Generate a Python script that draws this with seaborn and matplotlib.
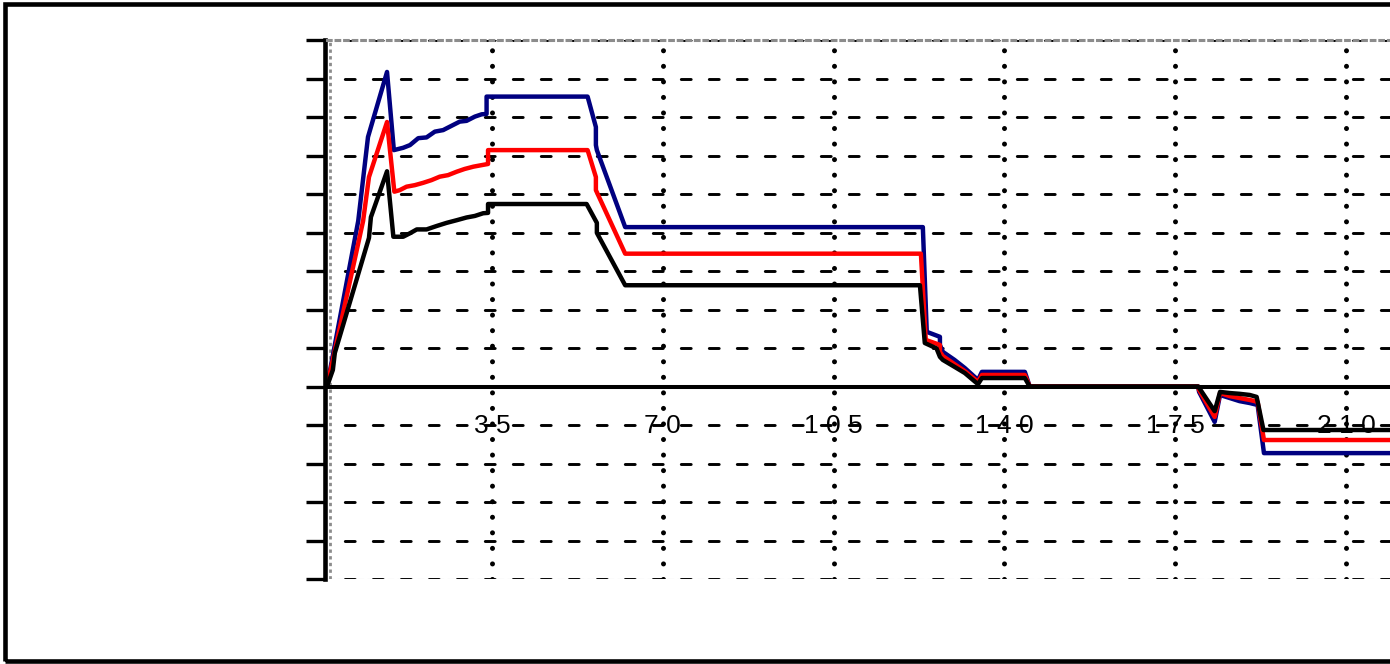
import matplotlib
matplotlib.use("Agg")
import matplotlib.pyplot as plt
from matplotlib.patches import Rectangle
import pandas as pd
import seaborn as sns

# ---- data -------------------------------------------------------------
names = ["upper", "middle", "lower"]
colors = ["#000080", "#ff0000", "#000000"]

upper_t = [1.2, 7.6, 9.6, 13.5, 14.9, 16.8, 18.2, 19.9, 21.6, 23.3, 25.0, 26.7,
           28.4, 29.8, 31.5, 32.9, 33.9, 33.9, 54.6, 56.3, 56.3, 56.5, 62.3,
           123.3, 124.1, 126.8, 126.8, 127.4, 129.8, 131.9, 134.6, 135.4, 144.2,
           145.2, 179.7, 179.9, 183.1, 184.2, 186.2, 188.2, 190.3, 191.9, 193.2, 230.0]
upper_v = [0.0, 4.30, 6.48, 8.17, 6.14, 6.20, 6.27, 6.45, 6.47, 6.62, 6.66, 6.77,
           6.88, 6.90, 7.01, 7.07, 7.08, 7.53, 7.53, 6.74, 6.27, 6.14, 4.14,
           4.14, 1.42, 1.29, 1.08, 0.90, 0.69, 0.48, 0.17, 0.38, 0.38,
           0.0, 0.0, -0.14, -0.92, -0.22, -0.30, -0.38, -0.43, -0.48, -1.73, -1.73]

middle_t = [1.2, 8.6, 9.8, 13.5, 15.0, 16.1, 17.5, 19.2, 20.9, 22.6, 24.3, 26.0,
            27.8, 29.4, 31.2, 32.9, 34.2, 34.2, 54.6, 56.3, 56.3, 62.3,
            122.9, 123.9, 126.8, 126.8, 127.4, 129.8, 131.9, 134.6, 135.4, 144.2,
            145.2, 179.7, 179.9, 183.1, 184.2, 186.2, 188.2, 190.3, 191.9, 193.2, 230.0]
middle_v = [0.0, 4.30, 5.44, 6.87, 5.06, 5.10, 5.19, 5.23, 5.29, 5.36, 5.45, 5.49,
            5.58, 5.65, 5.71, 5.75, 5.78, 6.14, 6.14, 5.44, 5.10, 3.45,
            3.45, 1.21, 1.08, 0.90, 0.79, 0.58, 0.40, 0.12, 0.30, 0.30,
            0.0, 0.0, -0.09, -0.79, -0.17, -0.25, -0.30, -0.35, -0.40, -1.39, -1.39]

lower_t = [1.2, 2.4, 2.8, 9.8, 10.2, 13.5, 14.8, 16.8, 18.2, 19.6, 21.6, 23.7,
           25.7, 27.8, 29.8, 31.5, 33.2, 34.2, 34.2, 54.4, 56.5, 56.5, 62.3,
           122.7, 123.7, 126.1, 126.8, 127.4, 129.8, 131.9, 134.6, 135.4, 144.2,
           145.2, 179.7, 180.1, 183.1, 184.2, 186.2, 188.2, 190.3, 191.7, 193.1, 230.0]
lower_v = [0.0, 0.43, 0.87, 3.86, 4.40, 5.59, 3.89, 3.89, 3.98, 4.08, 4.08, 4.17,
           4.25, 4.32, 4.39, 4.43, 4.50, 4.51, 4.74, 4.74, 4.25, 3.99, 2.63,
           2.63, 1.13, 0.99, 0.77, 0.69, 0.51, 0.35, 0.06, 0.22, 0.22,
           0.0, 0.0, -0.07, -0.64, -0.14, -0.17, -0.19, -0.22, -0.27, -1.13, -1.13]

x_ticks = [35, 70, 105, 140, 175, 210]
x_tick_labels = ["3 5", "7 0", "1 0 5", "1 4 0", "1 7 5", "2 1 0"]
y_ticks = list(range(-5, 10))

x_min, x_max = 1.2, 230.0
y_min, y_max = -5, 9

df = pd.concat(
    [pd.DataFrame({"t": t, "v": v, "trace": n})
     for t, v, n in zip([upper_t, middle_t, lower_t],
                        [upper_v, middle_v, lower_v], names)],
    ignore_index=True,
)

# ---- figure -----------------------------------------------------------
sns.set_style("white")
plt.rcParams["font.family"] = ["Liberation Sans", "DejaVu Sans"]

W, H = 1390, 664
fig = plt.figure(figsize=(W / 100, H / 100), dpi=100)
fig.patch.set_facecolor("white")

# outer frame around the whole figure (right side runs off the canvas)
fig.patches.append(Rectangle((5 / W, 3.5 / H), 1.2, (H - 7) / H,
                             transform=fig.transFigure, fill=False,
                             edgecolor="black", linewidth=3.3, zorder=0))

px_per_unit = 4.88
ax_left, ax_top, ax_bottom = 327, 40, 579
ax = fig.add_axes([ax_left / W, (H - ax_bottom) / H,
                   (x_max - x_min) * px_per_unit / W, (ax_bottom - ax_top) / H])
ax.set_facecolor("white")
ax.set_xlim(x_min, x_max)
ax.set_ylim(y_min, y_max)

# grid: dashed horizontals, dotted verticals
dash_lw = 2.1
for y in y_ticks:
    if y == 0:
        continue
    ax.axhline(y, color="black", lw=dash_lw, ls=(3.5, (3.4, 6.2)),
               dash_capstyle="round", zorder=1)
for x in x_ticks:
    ax.axvline(x, color="black", lw=3.6, ls=(0, (0.01, 3.1)),
               dash_capstyle="round", zorder=1)

# thin grey frame lines next to the axes
ax.axvline(x_min + 2.5 / px_per_unit, color="#8c8c8c", lw=2.0,
           ls=(0, (1.2, 1.2)), zorder=1.2)
ax.axhline(y_min, color="#c8c8c8", lw=0.8, ls=(0, (6, 3)), zorder=0.9)

sns.lineplot(data=df, x="t", y="v", hue="trace", hue_order=names,
             palette=colors, sort=False, estimator=None, legend=False,
             linewidth=3.2, ax=ax, zorder=3)

# spines
ax.spines["right"].set_visible(False)
ax.spines["top"].set_color("#8c8c8c")
ax.spines["top"].set_linewidth(2.2)
ax.spines["top"].set_linestyle((0, (1.2, 1.6)))
ax.spines["left"].set_color("black")
ax.spines["left"].set_linewidth(3.3)
ax.spines["left"].set_position(("outward", 1.5))
ax.spines["bottom"].set_position(("data", 0))
ax.spines["bottom"].set_color("black")
ax.spines["bottom"].set_linewidth(2.9)
for s in ax.spines.values():
    s.set_zorder(4)

# ticks
ax.set_xticks(x_ticks)
ax.set_xticklabels(x_tick_labels)
ax.set_yticks(y_ticks)
ax.set_yticklabels([])
ax.tick_params(axis="x", direction="out", length=7.2, width=2.4,
               color="black", pad=12.5, labelsize=19, labelcolor="black")
ax.tick_params(axis="y", direction="out", length=13.7, width=2.4,
               color="black", left=True)
ax.set_xlabel("")
ax.set_ylabel("")

fig.savefig("out.png", dpi=100)
